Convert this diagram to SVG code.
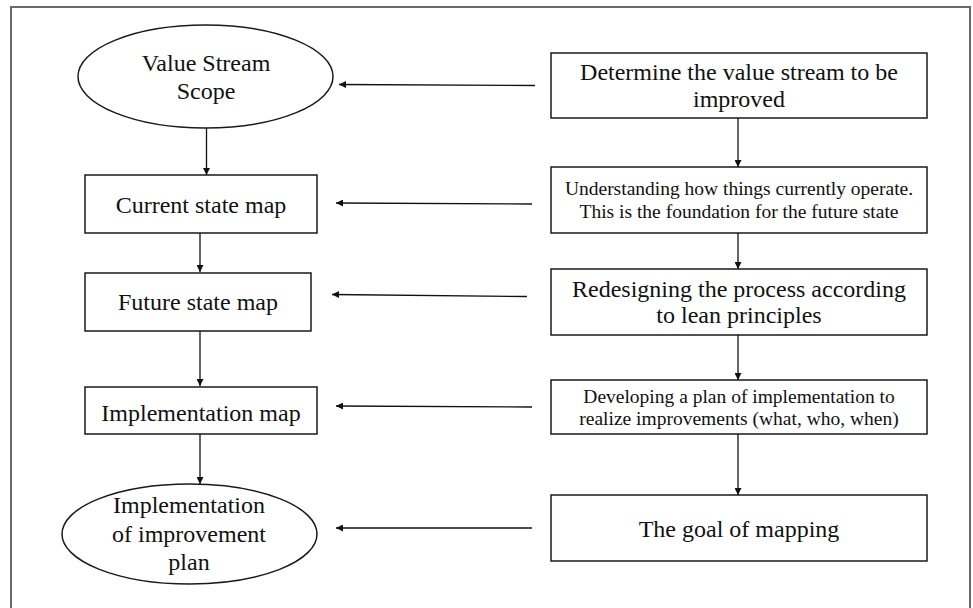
<svg xmlns="http://www.w3.org/2000/svg" width="973" height="608" viewBox="0 0 973 608">
  <style>
    .frame { fill: none; stroke: #6a6a6a; stroke-width: 2; }
    .shape { fill: #ffffff; stroke: #1a1a1a; stroke-width: 1.5; }
    .lbl { font-family: "Liberation Serif", "Times New Roman", serif; font-size: 24px; fill: #111111; text-anchor: middle; }
    .sm { font-size: 19.5px; }
    .edge { fill: none; stroke: #111111; stroke-width: 1.3; marker-end: url(#head); }
  </style>
  <defs>
    <marker id="head" viewBox="0 0 10 10" refX="10" refY="5" markerWidth="8" markerHeight="7" markerUnits="userSpaceOnUse" orient="auto">
      <path d="M0,0 L10,5 L0,10 Z" fill="#111111"/>
    </marker>
  </defs>
  <rect width="973" height="608" fill="#ffffff"/>
  <rect class="frame" x="11" y="7" width="959" height="620"/>

  <!-- left column -->
  <g id="value-stream-scope">
    <ellipse class="shape" cx="205.5" cy="76.5" rx="127.5" ry="51.5"/>
    <text class="lbl" x="206" y="71">Value Stream</text>
    <text class="lbl" x="206" y="99">Scope</text>
  </g>
  <g id="current-state-map">
    <rect class="shape" x="85" y="175" width="232" height="58"/>
    <text class="lbl" x="201" y="213">Current state map</text>
  </g>
  <g id="future-state-map">
    <rect class="shape" x="85" y="273" width="226" height="58"/>
    <text class="lbl" x="198" y="310">Future state map</text>
  </g>
  <g id="implementation-map">
    <rect class="shape" x="85" y="387" width="232" height="47"/>
    <text class="lbl" x="201" y="421">Implementation map</text>
  </g>
  <g id="implementation-plan">
    <ellipse class="shape" cx="189.5" cy="534" rx="127.5" ry="50"/>
    <text class="lbl" x="189" y="513">Implementation</text>
    <text class="lbl" x="189" y="542">of improvement</text>
    <text class="lbl" x="189" y="570">plan</text>
  </g>

  <!-- right column -->
  <g id="determine-stream">
    <rect class="shape" x="551" y="53" width="376" height="65"/>
    <text class="lbl" x="739" y="80">Determine the value stream to be</text>
    <text class="lbl" x="739" y="107">improved</text>
  </g>
  <g id="understanding">
    <rect class="shape" x="551" y="167" width="376" height="66"/>
    <text class="lbl sm" x="739" y="195">Understanding how things currently operate.</text>
    <text class="lbl sm" x="739" y="218">This is the foundation for the future state</text>
  </g>
  <g id="redesigning">
    <rect class="shape" x="551" y="269" width="376" height="66"/>
    <text class="lbl" x="739" y="297">Redesigning the process according</text>
    <text class="lbl" x="739" y="323">to lean principles</text>
  </g>
  <g id="developing-plan">
    <rect class="shape" x="551" y="380" width="376" height="54"/>
    <text class="lbl sm" x="739" y="403">Developing a plan of implementation to</text>
    <text class="lbl sm" x="739" y="425">realize improvements (what, who, when)</text>
  </g>
  <g id="goal-of-mapping">
    <rect class="shape" x="551" y="495" width="376" height="66"/>
    <text class="lbl" x="739" y="537">The goal of mapping</text>
  </g>

  <!-- connectors -->
  <g id="connectors">
    <line class="edge" x1="206.5" y1="128" x2="206.5" y2="175"/>
    <line class="edge" x1="200" y1="233" x2="200" y2="272"/>
    <line class="edge" x1="200" y1="331" x2="200" y2="386"/>
    <line class="edge" x1="200" y1="434" x2="200" y2="484"/>

    <line class="edge" x1="738" y1="118" x2="738" y2="167"/>
    <line class="edge" x1="738" y1="233" x2="738" y2="269"/>
    <line class="edge" x1="738" y1="335" x2="738" y2="380"/>
    <line class="edge" x1="738" y1="434" x2="738" y2="495"/>

    <line class="edge" x1="535" y1="85.5" x2="339" y2="84.5"/>
    <line class="edge" x1="532" y1="204" x2="336" y2="203"/>
    <line class="edge" x1="527" y1="296.5" x2="332" y2="294.5"/>
    <line class="edge" x1="532" y1="407" x2="336" y2="406"/>
    <line class="edge" x1="532" y1="528" x2="336" y2="528"/>
  </g>
</svg>
